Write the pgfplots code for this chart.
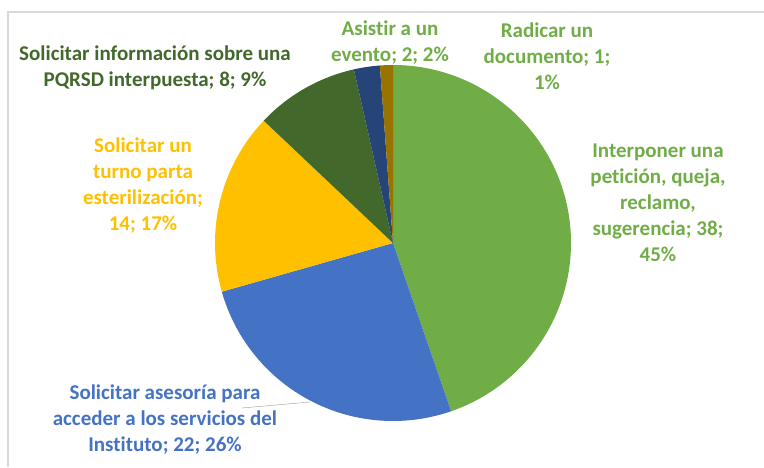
\documentclass[border=0pt]{standalone}
\usepackage{pgfplots}
\pgfplotsset{compat=1.18}
\usepackage{fontspec}
\setmainfont{Carlito}[Ligatures={NoCommon,NoContextual}]
\definecolor{cGreen}{HTML}{70AD47}
\definecolor{cBlue}{HTML}{4472C4}
\definecolor{cGold}{HTML}{FFC000}
\definecolor{cDkGreen}{HTML}{43682B}
\definecolor{cDkBlue}{HTML}{264478}
\definecolor{cBrown}{HTML}{997300}
\definecolor{frame}{HTML}{D9D9D9}
\tikzset{lbl/.style={font=\fontsize{21}{26}\selectfont\bfseries,align=center,inner sep=0pt}}

\begin{document}
\begin{tikzpicture}
\begin{axis}[
  width=764pt,height=467pt,scale only axis,
  xmin=0,xmax=764,ymin=0,ymax=467,y dir=reverse,
  hide axis,clip=false,
]
% frame of the chart area
\draw[frame,line width=1.2pt] (axis cs:8,467) -- (axis cs:8,12) -- (axis cs:764,12);

% slices: value / colour, clockwise from 12 o'clock (total 85)
\gdef\startang{90}
\foreach \v/\c in {38/cGreen,22/cBlue,14/cGold,8/cDkGreen,2/cDkBlue,1/cBrown}{
  \pgfmathsetmacro\endang{\startang-\v*360/85}
  \edef\temp{\noexpand\fill[\c] (axis cs:393,243) -- ++(\startang:178pt)
    arc[start angle=\startang,end angle=\endang,radius=178pt] -- cycle;}
  \temp
  \xdef\startang{\endang}
}

% leader line
\draw[gray!80] (axis cs:242,408) -- (axis cs:310,402);

% data labels
\node[lbl,text=cGreen] at (axis cs:658,203) {Interponer una\\petición, queja,\\reclamo,\\sugerencia; 38;\\45\%};
\node[lbl,text=cBlue] at (axis cs:165,420) {Solicitar asesoría para\\acceder a los servicios del\\Instituto; 22; 26\%};
\node[lbl,text=cGold] at (axis cs:143,186) {Solicitar un\\turno parta\\esterilización;\\14; 17\%};
\node[lbl,text=cDkGreen] at (axis cs:155,68) {Solicitar información sobre una\\PQRSD interpuesta; 8; 9\%};
\node[lbl,text=cGreen] at (axis cs:390,43) {Asistir a un\\evento; 2; 2\%};
\node[lbl,text=cGreen] at (axis cs:547,56) {Radicar un\\documento; 1;\\1\%};
\end{axis}
\pgfresetboundingbox
\path[use as bounding box] (current axis.south west) rectangle (current axis.north east);
\end{tikzpicture}
\end{document}
